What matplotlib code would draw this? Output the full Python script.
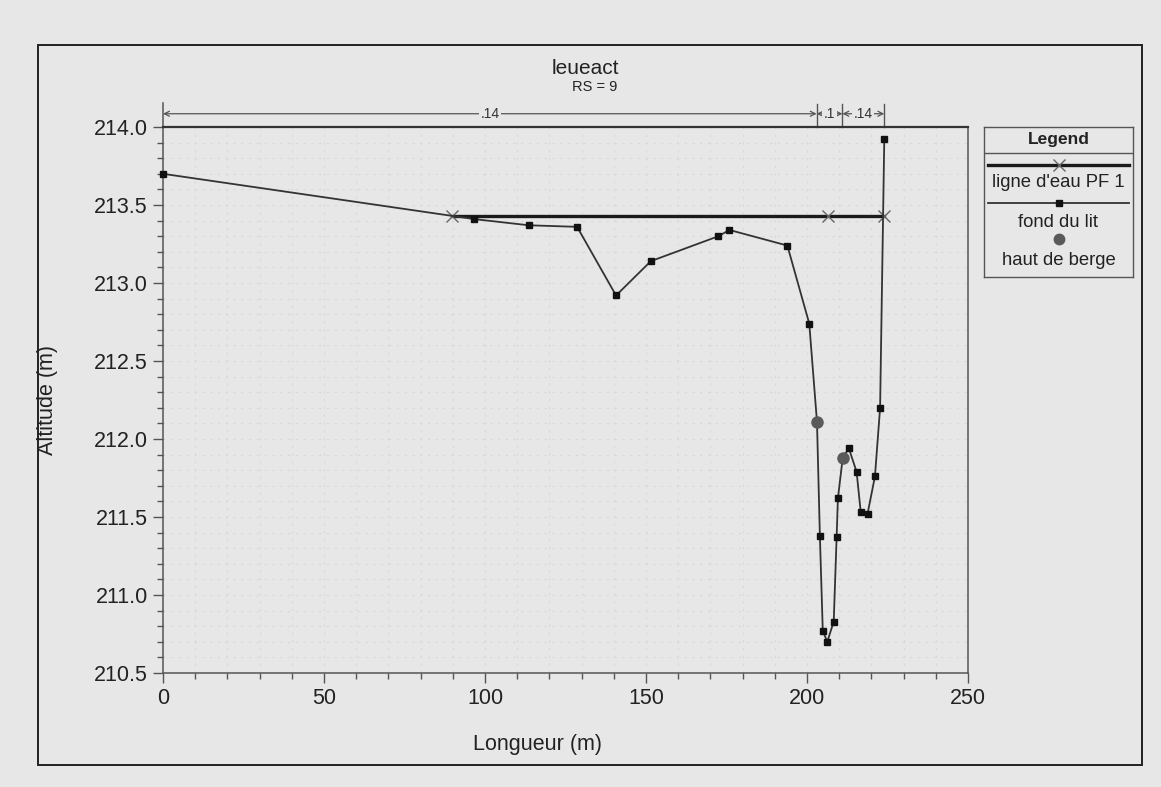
import matplotlib
matplotlib.use("Agg")
import matplotlib.pyplot as plt
from matplotlib.patches import Rectangle
from matplotlib.lines import Line2D
from matplotlib.ticker import MultipleLocator, FormatStrFormatter

plt.rcParams['font.family'] = ['Liberation Sans', 'DejaVu Sans']

# Cross-section profile (station in m, elevation in m)
ground_x = [0, 96.5, 113.6, 128.6, 140.7, 151.5, 172.5, 175.9, 193.9, 200.7,
            203.1, 204.0, 204.9, 206.3, 208.3, 209.2, 209.6, 211.1, 213.0,
            215.4, 216.7, 218.8, 221.1, 222.7, 224.0]
ground_z = [213.70, 213.41, 213.37, 213.36, 212.92, 213.14, 213.30, 213.34,
            213.24, 212.74, 212.11, 211.38, 210.77, 210.70, 210.83, 211.37,
            211.62, 211.88, 211.94, 211.79, 211.53, 211.52, 211.76, 212.20,
            213.92]

# Water surface (PF 1)
ws_x = [89.8, 206.5, 224.0]
ws_z = [213.43, 213.43, 213.43]

# Bank stations
bank_x = [203.1, 211.1]
bank_z = [212.11, 211.88]

# Manning's n regions across the top
n_edges = [0, 203.0, 211.0, 224.0]
n_values = ['.14', '.1', '.14']

title = 'leueact'
subtitle = 'RS = 9'
xlabel = 'Longueur (m)'
ylabel = 'Altitude (m)'
legend_labels = ["ligne d'eau PF 1", 'fond du lit', 'haut de berge']

bg = '#e7e7e7'
ink = '#222222'
W, H = 1161, 787
fig = plt.figure(figsize=(W / 100, H / 100), dpi=100, facecolor=bg)

# outer frame
fig.add_artist(Rectangle((38 / W, 1 - 765 / H), (1142 - 38) / W, (765 - 45) / H,
                         transform=fig.transFigure, fill=False,
                         edgecolor='#222222', linewidth=1.4))

ax = fig.add_axes([163 / W, 1 - 673 / H, (968 - 163) / W, (673 - 127) / H])
ax.set_facecolor(bg)
ax.set_xlim(0, 250)
ax.set_ylim(210.5, 214.0)

ax.xaxis.set_major_locator(MultipleLocator(50))
ax.xaxis.set_minor_locator(MultipleLocator(10))
ax.yaxis.set_major_locator(MultipleLocator(0.5))
ax.yaxis.set_minor_locator(MultipleLocator(0.1))
ax.yaxis.set_major_formatter(FormatStrFormatter('%.1f'))
ax.tick_params(which='major', length=7, width=1, color='#555555',
               labelsize=15.5, labelcolor=ink, pad=4)
ax.tick_params(which='minor', length=4, width=1, color='#555555')
ax.grid(which='both', color='#d8d8d8', linestyle=(0, (2, 5)), linewidth=0.8)
ax.set_axisbelow(True)
for s in ax.spines.values():
    s.set_color('#555555')
    s.set_linewidth(1.1)
ax.spines['top'].set_color('#333333')
ax.spines['top'].set_linewidth(1.6)

ax.set_xlabel(xlabel, fontsize=15.5, color=ink)
ax.set_ylabel(ylabel, fontsize=15.5, color=ink)
ax.xaxis.set_label_coords(0.465, -0.111)
ax.yaxis.set_label_coords(-0.130, 0.5)

# left axis continues up to the n-value band
ax.plot([0, 0], [214.0, 214.155], color='#555555', lw=1.1, clip_on=False)

# water surface
ax.plot(ws_x, ws_z, color='#1a1a1a', lw=2.4, marker='x', markersize=9,
        markeredgecolor='#666666', markeredgewidth=1.0, zorder=3)
# ground profile
ax.plot(ground_x, ground_z, color='#333333', lw=1.3, marker='s', markersize=4,
        markerfacecolor='#111111', markeredgecolor='#111111', zorder=4,
        clip_on=False)
# bank stations
ax.plot(bank_x, bank_z, linestyle='none', marker='o', markersize=8,
        color='#5a5a5a', zorder=5)

# Manning's n band
yd = 214.085
for xe in n_edges[1:]:
    ax.plot([xe, xe], [214.0, 214.15], color='#555555', lw=1.0, clip_on=False)
for i, lab in enumerate(n_values):
    x0, x1 = n_edges[i], n_edges[i + 1]
    ax.annotate('', xy=(x0, yd), xytext=(x1, yd), annotation_clip=False,
                arrowprops=dict(arrowstyle='<->', color='#555555', lw=0.9,
                                shrinkA=0, shrinkB=0, mutation_scale=9))
    ax.text((x0 + x1) / 2, yd, lab, ha='center', va='center', fontsize=10,
            color='#333333', clip_on=False,
            bbox=dict(boxstyle='square,pad=0.1', facecolor=bg, edgecolor='none'))

# titles
narrow = ['Liberation Sans Narrow', 'Liberation Sans', 'DejaVu Sans']
fig.text(585 / W, 1 - 68 / H, title, ha='center', va='center', fontsize=15,
         family=narrow, color=ink)
fig.text(595 / W, 1 - 87 / H, subtitle, ha='center', va='center', fontsize=10.5,
         family=narrow, color=ink)

# legend box
lg = fig.add_axes([984 / W, 1 - 277 / H, (1133 - 984) / W, 150 / H])
lg.set_xlim(0, 1)
lg.set_ylim(0, 1)
lg.set_xticks([])
lg.set_yticks([])
lg.set_facecolor(bg)
for s in lg.spines.values():
    s.set_color('#555555')
    s.set_linewidth(1.0)
lg.plot([0, 1], [0.827, 0.827], color='#555555', lw=1.0)
lg.text(0.5, 0.887, 'Legend', ha='center', va='baseline', fontsize=12.5,
        fontweight='bold', color=ink)
lg.add_line(Line2D([0.03, 0.97], [0.747, 0.747], color='#1a1a1a', lw=2.4))
lg.plot([0.5], [0.747], marker='x', markersize=9, markeredgecolor='#666666',
        markeredgewidth=1.0)
lg.text(0.5, 0.602, legend_labels[0], ha='center', va='baseline', fontsize=13.3,
        color=ink)
lg.add_line(Line2D([0.03, 0.97], [0.493, 0.493], color='#333333', lw=1.3))
lg.plot([0.5], [0.493], marker='s', markersize=4, color='#111111')
lg.text(0.5, 0.335, legend_labels[1], ha='center', va='baseline', fontsize=13.3,
        color=ink)
lg.plot([0.5], [0.255], marker='o', markersize=7.5, color='#5a5a5a')
lg.text(0.5, 0.08, legend_labels[2], ha='center', va='baseline', fontsize=13.3,
        color=ink)

fig.savefig('out.png', dpi=100, facecolor=bg)
